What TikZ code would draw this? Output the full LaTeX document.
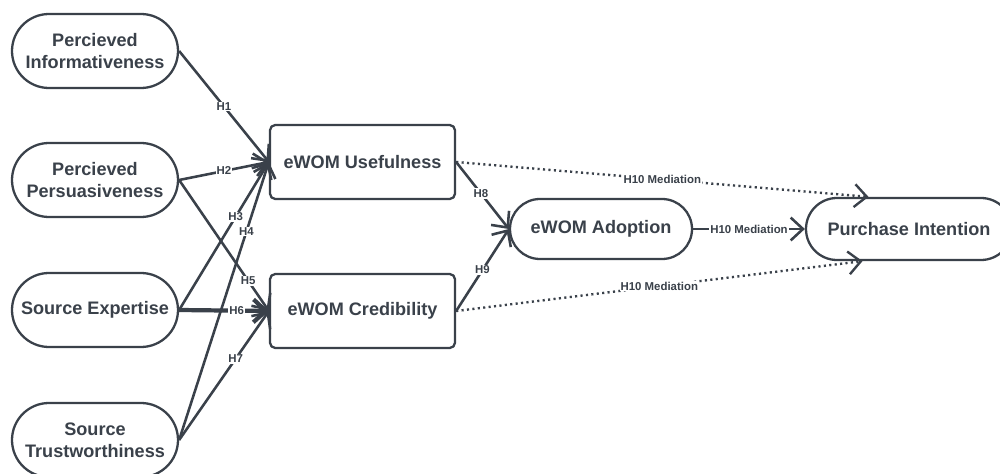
\documentclass[tikz,border=0pt]{standalone}
\usepackage{fontspec}
\setmainfont{Liberation Sans}
\usepackage{tikz}
\usetikzlibrary{arrows.meta,shapes.misc}
\definecolor{slate}{HTML}{3A414A}
\tikzset{
  every picture/.style={line join=round, >={Straight Barb[length=7pt,width=13pt]}},
  construct/.style={rounded rectangle, draw=slate, line width=1.3pt, text=slate,
    font=\fontsize{10.3}{12.5}\selectfont\bfseries, align=center,
    minimum width=3.32cm, minimum height=1.48cm, inner sep=0pt},
  mediator/.style={rectangle, rounded corners=3pt, draw=slate, line width=1.3pt, text=slate,
    font=\fontsize{10.3}{12.5}\selectfont\bfseries, align=center,
    minimum width=3.7cm, minimum height=1.48cm, inner sep=0pt},
  path/.style={->, draw=slate, line width=1.45pt},
  mediation/.style={->, draw=slate, line width=1.35pt, dash pattern=on 1.2pt off 1.9pt},
  hyp/.style={fill=white, text=slate, inner sep=0.6pt, font=\fontsize{6.5}{7}\selectfont\bfseries},
}

\begin{document}
\begin{tikzpicture}
\useasboundingbox (0,0) rectangle (20,9.46);
\fill[white] (0,0) rectangle (20,9.46);
% antecedents
\node[construct] (info) at (1.90,8.44) {Percieved\\Informativeness};
\node[construct] (pers) at (1.90,5.86) {Percieved\\Persuasiveness};
\node[construct] (expert) at (1.90,3.26) {Source Expertise};
\node[construct] (trust) at (1.90,0.66) {Source\\Trustworthiness};
% eWOM constructs
\node[mediator] (useful) at (7.25,6.22) {eWOM Usefulness};
\node[mediator] (cred) at (7.25,3.24) {eWOM Credibility};
\node[construct,minimum width=3.64cm,minimum height=1.20cm] (adopt) at (12.02,4.88) {eWOM Adoption};
\node[construct,minimum width=4.12cm,minimum height=1.24cm] (purch) at (18.18,4.88) {Purchase Intention};
\coordinate (purchtop) at ([xshift=-0.81cm]purch.north);
\coordinate (purchbot) at ([xshift=-0.93cm]purch.south);
% hypotheses
\draw[path] (info.east) -- node[hyp,pos=0.5] {H1} (useful.west);
\draw[path] (pers.east) -- node[hyp,pos=0.5] {H2} (useful.west);
\draw[path] (expert.east) -- node[hyp,pos=0.63] {H3} (useful.west);
\draw[path] (trust.east) -- node[hyp,pos=0.75] {H4} (useful.west);
\draw[path] (pers.east) -- node[hyp,pos=0.77] {H5} (cred.west);
\draw[path,line width=2.4pt] (expert.east) -- node[hyp,pos=0.64] {H6} (cred.west);
\draw[path] (trust.east) -- node[hyp,pos=0.63] {H7} (cred.west);
\draw[path] (useful.east) -- node[hyp,pos=0.47] {H8} (adopt.west);
\draw[path] (cred.east) -- node[hyp,pos=0.5] {H9} (adopt.west);
\draw[path] (adopt.east) -- node[hyp,pos=0.5] {H10 Mediation} (purch.west);
% indirect paths
\draw[mediation] (useful.east) -- node[hyp,pos=0.5] {H10 Mediation} (purchtop);
\draw[mediation] (cred.east) -- node[hyp,pos=0.5] {H10 Mediation} (purchbot);
\end{tikzpicture}
\end{document}
